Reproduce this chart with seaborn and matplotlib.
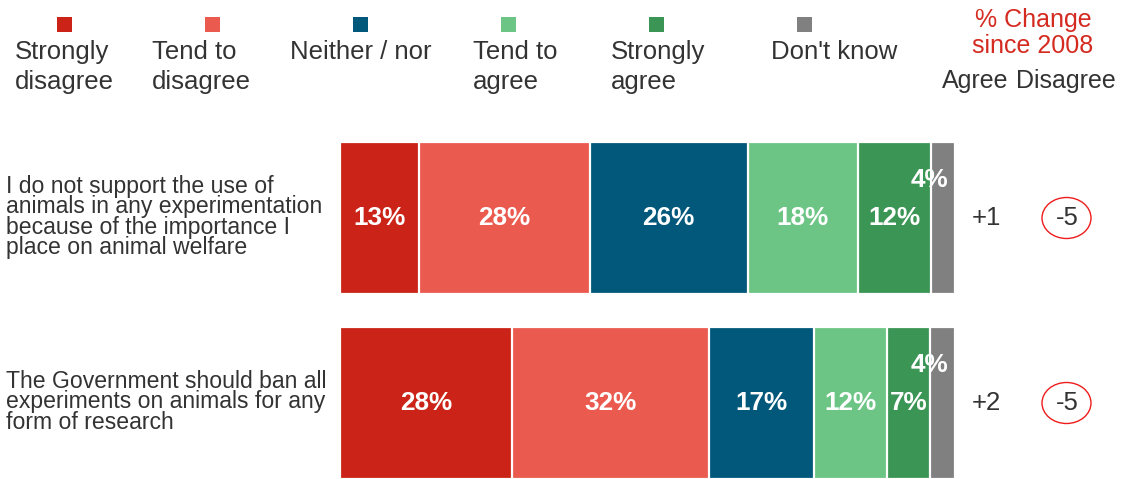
import matplotlib
matplotlib.use("Agg")
import matplotlib.pyplot as plt
import numpy as np
import pandas as pd
import seaborn as sns
from matplotlib.patches import Rectangle, Ellipse
from matplotlib.transforms import blended_transform_factory

# ---- data -------------------------------------------------------------
categories = ["Strongly disagree", "Tend to disagree", "Neither / nor",
              "Tend to agree", "Strongly agree", "Don't know"]
legend_labels = ["Strongly\ndisagree", "Tend to\ndisagree", "Neither / nor",
                 "Tend to\nagree", "Strongly\nagree", "Don't know"]
colors = ["#cb2317", "#eb5a4f", "#02587a", "#6cc585", "#3b9555", "#808080"]

statements = [
    "I do not support the use of\nanimals in any experimentation\nbecause of the importance I\nplace on animal welfare",
    "The Government should ban all\nexperiments on animals for any\nform of research",
]
values_row1 = [13, 28, 26, 18, 12, 4]
values_row2 = [28, 32, 17, 12, 7, 4]
change_agree = ["+1", "+2"]
change_disagree = ["-5", "-5"]

# ---- long table with cumulative shares (each row scaled to 100%) --------
records = []
for stmt, vals in zip(statements, [values_row1, values_row2]):
    total = sum(vals)
    cum = 0.0
    for cat, v in zip(categories, vals):
        share = v / total * 100
        records.append(dict(statement=stmt, category=cat, value=v,
                            start=cum, end=cum + share))
        cum += share
df = pd.DataFrame(records)

# ---- figure -----------------------------------------------------------
W, H = 1128, 479
sns.set_theme(style="white")
plt.rcParams["font.family"] = ["Liberation Sans", "DejaVu Sans"]
TXT = "#333333"

fig = plt.figure(figsize=(W / 100, H / 100), dpi=100)
fig.patch.set_facecolor("white")
ax = fig.add_axes([340 / W, 0, 615 / W, 1])

ROW_PX = 185.0   # pixel distance between the two bars
ROW0_PX = 218.0  # pixel height of the first bar's centre
for cat, col in reversed(list(zip(categories, colors))):
    sub = df[df["category"] == cat]
    sns.barplot(data=sub, x="end", y="statement", order=statements,
                orient="h", color=col, saturation=1, width=0.822,
                edgecolor="white", linewidth=1.6, errorbar=None, ax=ax)

ax.set_xlim(0, 100)
ax.set_ylim(1 + (479 - (ROW0_PX + ROW_PX)) / ROW_PX, -ROW0_PX / ROW_PX)
ax.set_axis_off()

# value labels inside the segments
for _, r in df.iterrows():
    i = statements.index(r["statement"])
    if r["category"] == "Don't know":
        ax.text(r["end"] - 1.1, i - 38 / ROW_PX, f"{r['value']}%",
                ha="right", va="center", color="white",
                fontsize=18.8, fontweight="bold")
    else:
        ax.text((r["start"] + r["end"]) / 2, i, f"{r['value']}%",
                ha="center", va="center", color="white",
                fontsize=18.8, fontweight="bold")

# statement labels (left side), tightly set
row_tf = blended_transform_factory(fig.transFigure, ax.transData)
for i, stmt in enumerate(statements):
    ax.text(6 / W, i - 1 / ROW_PX, stmt, transform=row_tf,
            ha="left", va="center", fontsize=16.6, color=TXT,
            linespacing=0.84)


def fx(x):
    return x / W


def fy(y):
    return 1 - y / H


# change since 2008 columns
for i in range(len(statements)):
    ax.text(986 / W, i, change_agree[i], transform=row_tf,
            ha="center", va="center", fontsize=18.5, color=TXT)
    ax.text(1067 / W, i, change_disagree[i], transform=row_tf,
            ha="center", va="center", fontsize=18.5, color=TXT)
    cy = ROW0_PX + ROW_PX * i
    fig.patches.append(Ellipse((fx(1066.5), fy(cy)), 49 / W, 41 / H,
                               transform=fig.transFigure, facecolor="none",
                               edgecolor="#ee1c1c", linewidth=1.0))

# legend: coloured squares with labels beneath
text_x = [14.7, 151.7, 290, 472.7, 610.7, 771]
for k, (lab, col) in enumerate(zip(legend_labels, colors)):
    cx = 64.5 + 148 * k
    fig.patches.append(Rectangle((fx(cx - 7.5), fy(32)), 15 / W, 15 / H,
                                 transform=fig.transFigure, facecolor=col,
                                 edgecolor="none"))
    for j, line in enumerate(lab.split("\n")):
        fig.text(fx(text_x[k]), fy(59.3 + 30 * j), line, ha="left",
                 va="baseline", fontsize=18.5, color=TXT)

# header for the change columns
fig.text(fx(1033), fy(26.7), "% Change", ha="center", va="baseline",
         fontsize=18, color="#d42a20")
fig.text(fx(1033), fy(53.3), "since 2008", ha="center", va="baseline",
         fontsize=18, color="#d42a20")
fig.text(fx(975), fy(88.3), "Agree", ha="center", va="baseline",
         fontsize=18, color=TXT)
fig.text(fx(1065.5), fy(88.3), "Disagree", ha="center", va="baseline",
         fontsize=18, color=TXT)

fig.savefig("out.png", dpi=100, facecolor="white")
